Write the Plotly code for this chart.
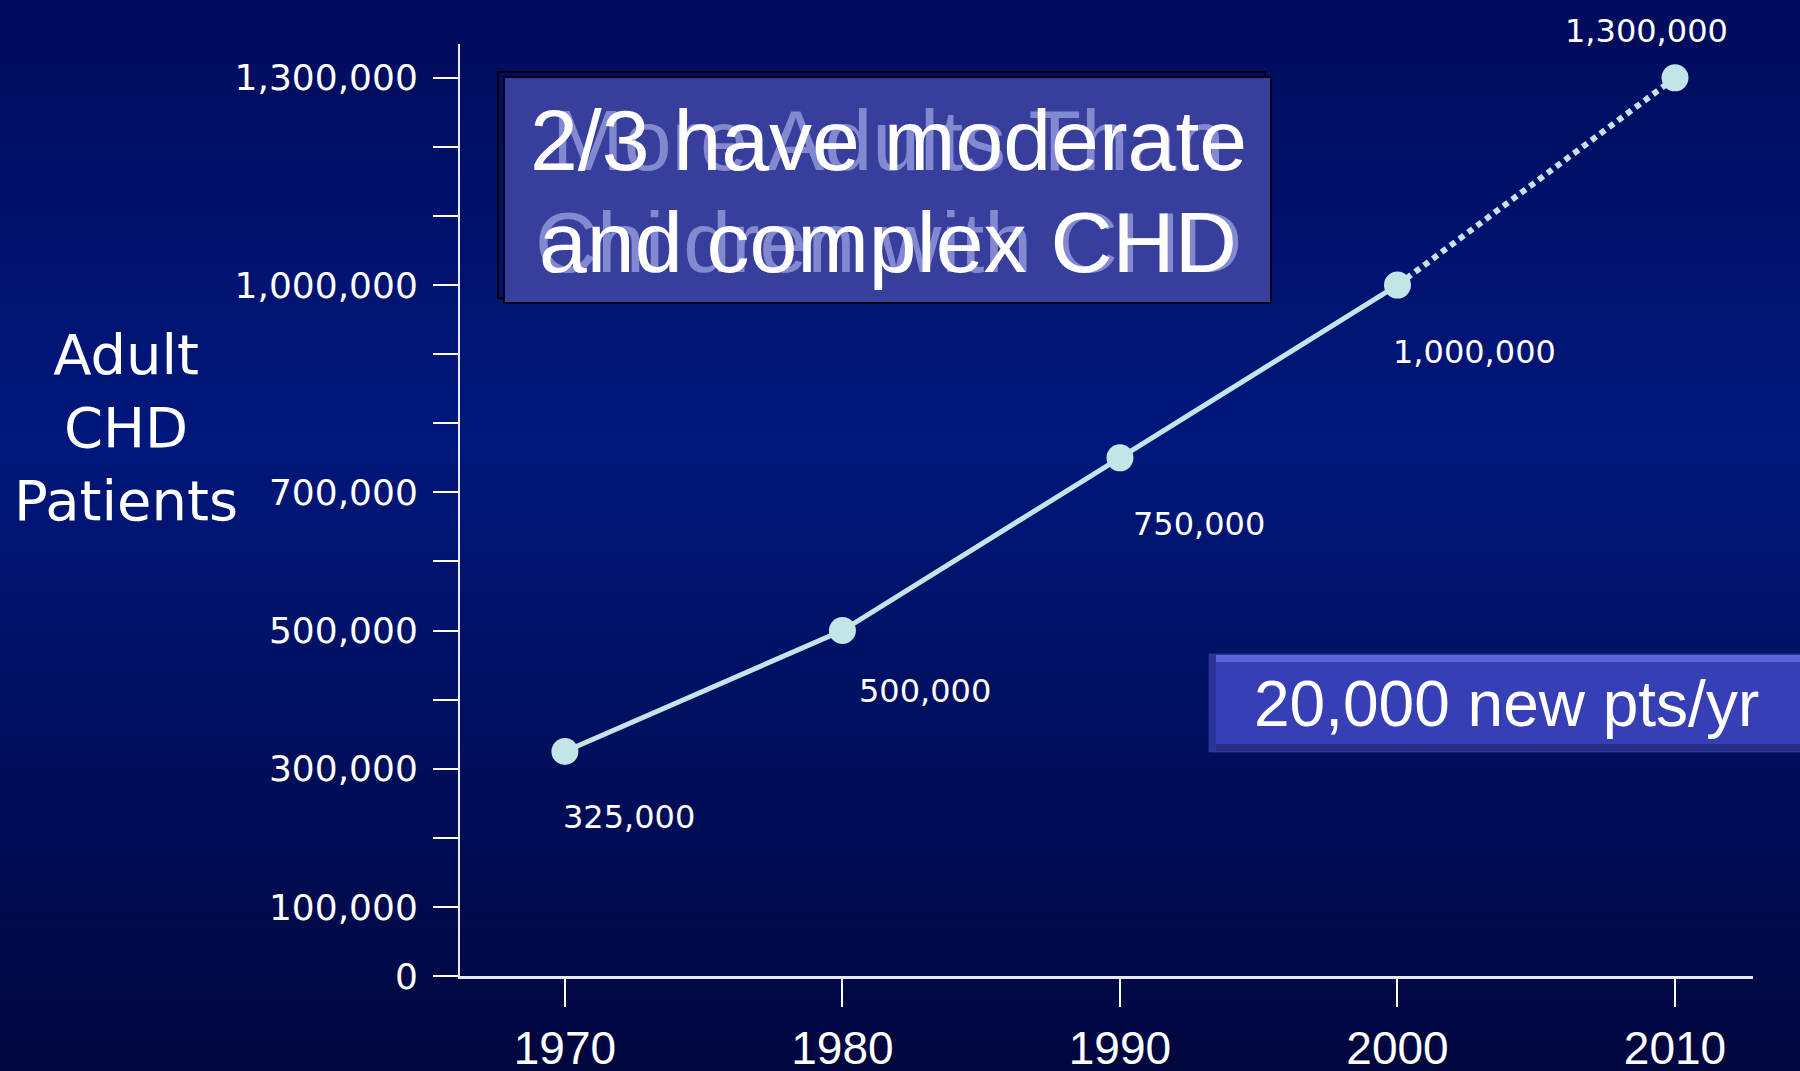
import plotly.graph_objects as go

# ---- data ----
years = [1970, 1980, 1990, 2000, 2010]
patients = [325000, 500000, 750000, 1000000, 1300000]
ytick_vals = [0, 100000, 200000, 300000, 400000, 500000, 600000, 700000,
              800000, 900000, 1000000, 1100000, 1200000, 1300000]
ytick_labels = ["0", "100,000", "", "300,000", "", "500,000", "", "700,000",
                "", "", "1,000,000", "", "", "1,300,000"]
xtick_vals = [1970, 1980, 1990, 2000, 2010]
xtick_labels = ["1970", "1980", "1990", "2000", "2010"]
# label offsets (pixels) relative to each point
label_dx = [-4, 15, 11, -6, -112]
label_dy = [-66, -60, -66, -67, 47]

W, H = 1800, 1071
L, R, T, B = 460, 47, 44, 95
PW, PH = W - L - R, H - T - B

def px(x):  # pixel x -> paper
    return (x - L) / PW

def py(y):  # pixel y -> paper
    return (H - B - y) / PH

LINE_COL = "#c2e5e7"
fig = go.Figure()

# solid part (observed)
fig.add_trace(go.Scatter(x=years[:4], y=patients[:4], mode="lines",
                         line=dict(color=LINE_COL, width=5), hoverinfo="skip",
                         showlegend=False))
# dotted projection
fig.add_trace(go.Scatter(x=years[3:], y=patients[3:], mode="lines",
                         line=dict(color=LINE_COL, width=6, dash="6px,5px"),
                         hoverinfo="skip", showlegend=False))
fig.add_trace(go.Scatter(x=years, y=patients, mode="markers",
                         marker=dict(color=LINE_COL, size=27), showlegend=False))

shapes = []
# background gradient
def lerp(a, b, t):
    return tuple(a[i] + (b[i] - a[i]) * t for i in range(3))
stops = [(0, (0, 12, 92)), (440, (0, 24, 124)), (1071, (0, 6, 62))]
N = 90
for i in range(N):
    y0 = H * i / N
    y1 = H * (i + 1) / N + 1
    ym = (y0 + y1) / 2
    for j in range(len(stops) - 1):
        if stops[j][0] <= ym <= stops[j + 1][0]:
            t = (ym - stops[j][0]) / (stops[j + 1][0] - stops[j][0])
            c = lerp(stops[j][1], stops[j + 1][1], t)
            break
    shapes.append(dict(type="rect", xref="paper", yref="paper",
                       x0=px(-5), x1=px(W + 5), y0=py(y1), y1=py(y0 - (3 if i == 0 else 0)),
                       fillcolor="rgb(%d,%d,%d)" % c, line=dict(width=0),
                       layer="below"))

# title box shadow + box
shapes.append(dict(type="rect", xref="paper", yref="paper",
                   x0=px(498), x1=px(1265), y0=py(298), y1=py(72),
                   fillcolor="rgba(0,0,0,0)", line=dict(color="#000000", width=2),
                   layer="above"))
shapes.append(dict(type="rect", xref="paper", yref="paper",
                   x0=px(504), x1=px(1271), y0=py(303), y1=py(77),
                   fillcolor="#383e9b", line=dict(color="#05051a", width=2),
                   layer="above"))

# "20,000 new pts/yr" bevel box
shapes.append(dict(type="rect", xref="paper", yref="paper",
                   x0=px(1209), x1=px(1810), y0=py(752), y1=py(654),
                   fillcolor="#373fb4", line=dict(color="#2a2f8a", width=1),
                   layer="above"))
shapes.append(dict(type="rect", xref="paper", yref="paper",
                   x0=px(1210), x1=px(1810), y0=py(662), y1=py(655),
                   fillcolor="#5a66d8", line=dict(width=0), layer="above"))
shapes.append(dict(type="rect", xref="paper", yref="paper",
                   x0=px(1210), x1=px(1810), y0=py(751), y1=py(744),
                   fillcolor="#262c8a", line=dict(width=0), layer="above"))
shapes.append(dict(type="rect", xref="paper", yref="paper",
                   x0=px(1209), x1=px(1216), y0=py(751), y1=py(655),
                   fillcolor="#2c3398", line=dict(width=0), layer="above"))

annotations = []
# data labels
for x, y, dx, dy in zip(years, patients, label_dx, label_dy):
    annotations.append(dict(x=x, y=y, xref="x", yref="y", text=f"{y:,}",
                            showarrow=False, xanchor="left", yanchor="middle",
                            xshift=dx, yshift=dy,
                            font=dict(family="DejaVu Sans", size=32, color="white")))

# y-axis title
annotations.append(dict(x=px(126), y=py(427), xref="paper", yref="paper",
                        text="Adult<br>CHD<br>Patients", showarrow=False,
                        xanchor="center", yanchor="middle", align="center",
                        font=dict(family="DejaVu Sans", size=56, color="white")))

# ghost text (previous slide build)
GH = "rgba(150,156,222,0.8)"
annotations.append(dict(x=px(888), y=py(140), xref="paper", yref="paper",
                        text="More Adults Than", showarrow=False,
                        xanchor="center", yanchor="middle",
                        font=dict(family="Liberation Sans, Arial", size=86, color=GH)))
annotations.append(dict(x=px(888), y=py(242), xref="paper", yref="paper",
                        text="Children with CHD", showarrow=False,
                        xanchor="center", yanchor="middle",
                        font=dict(family="Liberation Sans, Arial", size=86, color=GH)))
annotations.append(dict(x=px(888), y=py(140), xref="paper", yref="paper",
                        text="2/3 have moderate", showarrow=False,
                        xanchor="center", yanchor="middle",
                        font=dict(family="Liberation Sans, Arial", size=86, color="white")))
annotations.append(dict(x=px(888), y=py(242), xref="paper", yref="paper",
                        text="and complex CHD", showarrow=False,
                        xanchor="center", yanchor="middle",
                        font=dict(family="Liberation Sans, Arial", size=86, color="white")))

annotations.append(dict(x=px(1506), y=py(704), xref="paper", yref="paper",
                        text="20,000 new pts/yr", showarrow=False,
                        xanchor="center", yanchor="middle",
                        font=dict(family="Liberation Sans, Arial", size=64, color="white")))

fig.update_layout(
    width=W, height=H,
    margin=dict(l=L, r=R, t=T, b=B, autoexpand=False),
    paper_bgcolor="rgb(0,10,80)",
    plot_bgcolor="rgba(0,0,0,0)",
    shapes=shapes,
    annotations=annotations,
    showlegend=False,
    xaxis=dict(range=[1966.22, 2012.81], tickmode="array", tickvals=xtick_vals,
               ticktext=xtick_labels, showgrid=False, zeroline=False,
               showline=True, linecolor="#e8e8f0", linewidth=3,
               ticks="outside", ticklen=28, tickwidth=2, tickcolor="white",
               ticklabelstandoff=2, automargin=False,
               tickfont=dict(family="Liberation Sans, Arial", size=46, color="white")),
    yaxis=dict(range=[0, 1349000], tickmode="array", tickvals=ytick_vals,
               ticktext=ytick_labels, showgrid=False, zeroline=False,
               showline=True, linecolor="#e8e8f0", linewidth=2,
               ticks="outside", ticklen=25, tickwidth=2, tickcolor="white",
               ticklabelstandoff=8, automargin=False,
               tickfont=dict(family="DejaVu Sans", size=36, color="white")),
)

fig.write_html("out.html",
               config={"displayModeBar": False},
               post_script="document.body.style.margin='0';"
                           "document.body.style.overflow='hidden';"
                           "document.documentElement.style.overflow='hidden';")
